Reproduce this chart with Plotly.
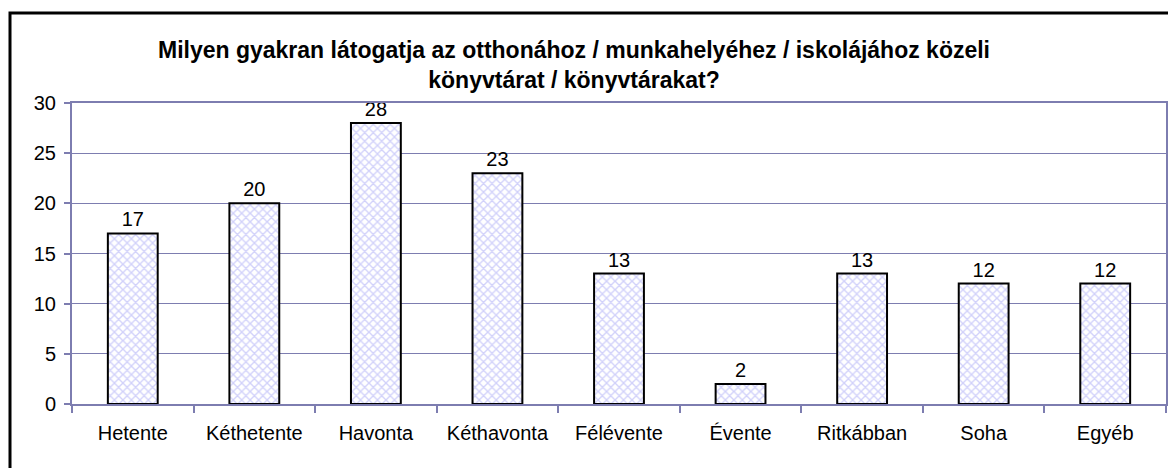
import plotly.graph_objects as go

categories = ["Hetente", "Kéthetente", "Havonta", "Kéthavonta", "Félévente",
              "Évente", "Ritkábban", "Soha", "Egyéb"]
values = [17, 20, 28, 23, 13, 2, 13, 12, 12]
y_ticks = [0, 5, 10, 15, 20, 25, 30]
title_text = ("Milyen gyakran látogatja az otthonához / munkahelyéhez / iskolájához közeli"
              "<br>könyvtárat / könyvtárakat?")

W, H = 1176, 468
OFF = 8  # page body margin offset
L, T = 72 - OFF, 103 - OFF
R = W - (1166 - OFF)
B = H - (404 - OFF)
pw, ph = W - L - R, H - T - B
axis_col = "#7d7db0"
font_fam = "Liberation Sans, Arial, sans-serif"

fig = go.Figure(go.Bar(
    x=categories, y=values,
    text=[str(v) for v in values],
    textposition="outside",
    cliponaxis=False,
    textfont=dict(family=font_fam, size=20, color="black"),
    marker=dict(
        color="white",
        line=dict(color="black", width=2),
        pattern=dict(shape="x", fgcolor="#a4a4f5", bgcolor="#ffffff",
                     size=6, solidity=0.4),
    ),
    width=0.41,
))

fig.update_layout(
    width=W, height=H,
    margin=dict(l=L, r=R, t=T, b=B),
    paper_bgcolor="white", plot_bgcolor="white",
    showlegend=False,
    font=dict(family=font_fam, color="black"),
    title=dict(text=title_text, x=(574 - OFF - L) / pw, xref="paper", xanchor="center",
               y=1 - (58 - OFF) / H, yanchor="middle",
               font=dict(family=font_fam, size=23, color="black", weight="bold")),
    xaxis=dict(
        showline=True, linecolor=axis_col, linewidth=2, mirror=True,
        ticks="outside", tickson="boundaries", ticklen=7, tickcolor=axis_col, tickwidth=2,
        tickfont=dict(size=20, color="black"), ticklabelstandoff=10,
        showgrid=False,
    ),
    yaxis=dict(
        range=[0, 30], tickvals=y_ticks,
        showline=True, linecolor=axis_col, linewidth=2, mirror=True,
        ticks="outside", ticklen=6, tickcolor=axis_col, tickwidth=2,
        tickfont=dict(size=20, color="black"), ticklabelstandoff=4,
        showgrid=True, gridcolor=axis_col, gridwidth=1,
        zeroline=False,
    ),
    shapes=[dict(type="rect", xref="paper", yref="paper",
                 x0=(10 - OFF - L) / pw, x1=(W + 20 - L) / pw,
                 y0=(T + ph - (H + 20)) / ph, y1=(T + ph - (13 - OFF)) / ph,
                 line=dict(color="black", width=3), fillcolor="rgba(0,0,0,0)",
                 layer="below")],
)

fig.write_html("out.html")
